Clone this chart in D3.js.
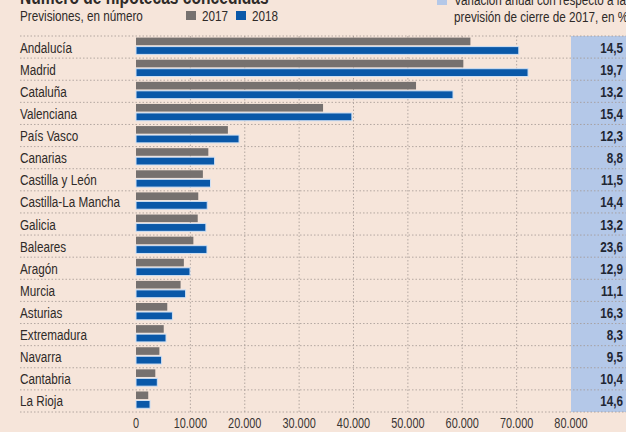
<!DOCTYPE html>
<html>
<head>
<meta charset="utf-8">
<script src="https://cdn.jsdelivr.net/npm/d3@7"></script>
<style>
  body { margin: 0; background: #f6e5da; }
  svg { display: block; font-family: "Liberation Sans", "Arimo", "Roboto", sans-serif; }
  .lab { fill: #2e2a28; font-size: 15px; }
  .val { fill: #1f2633; font-size: 15px; font-weight: bold; }
  .tick_x { fill: #3a3533; font-size: 14px; }
  .grid { stroke: #a39893; stroke-width: 0.8; stroke-dasharray: 1.5 2; fill: none; }
</style>
</head>
<body>
<svg id="chart" width="626" height="432"></svg>
<script>
let regions = ["Andalucía", "Madrid", "Cataluña", "Valenciana", "País Vasco", "Canarias",
    "Castilla y León", "Castilla-La Mancha", "Galicia", "Baleares", "Aragón", "Murcia",
    "Asturias", "Extremadura", "Navarra", "Cantabria", "La Rioja"];
let v2017 = [61500, 60200, 51500, 34400, 16900, 13300, 12300, 11450, 11350, 10550, 8800,
    8200, 5750, 5100, 4300, 3550, 2250];
let v2018 = [70400, 72100, 58300, 39700, 18950, 14450, 13700, 13100, 12850, 13050, 9930,
    9120, 6700, 5520, 4710, 3920, 2580];
let variacion = ["14,5", "19,7", "13,2", "15,4", "12,3", "8,8", "11,5", "14,4", "13,2", "23,6",
    "12,9", "11,1", "16,3", "8,3", "9,5", "10,4", "14,6"];
let ticks = [0, 10000, 20000, 30000, 40000, 50000, 60000, 70000, 80000];

// the original uses a condensed face, so squeeze text horizontally
const narrow = 0.78;
function place(px, py) {
    return "translate(" + px + "," + py + ") scale(" + narrow + ",1)";
}

let svg = d3.select("#chart");
let fmt = d3.formatLocale({decimal: ",", thousands: ".", grouping: [3]}).format(",");

let x = d3.scaleLinear().domain([0, 80000]).range([136, 571]);
let y = d3.scaleBand().domain(regions).range([36, 412]);
let rowH = y.bandwidth();

// panel for the variation column
svg.append("rect")
    .attr("x", x(80000)).attr("y", y.range()[0])
    .attr("width", 626 - x(80000)).attr("height", y.range()[1] - y.range()[0])
    .attr("fill", "#b4c8e8");

// vertical grid
svg.append("g")
    .selectAll("line")
    .data(ticks.slice(1, -1))
    .enter()
    .append("line")
    .attr("class", "grid")
    .attr("x1", d => x(d)).attr("x2", d => x(d))
    .attr("y1", y.range()[0]).attr("y2", y.range()[1]);

// horizontal row separators
let seps = regions.map(r => y(r)).concat([y.range()[1]]);
svg.append("g")
    .selectAll("line")
    .data(seps)
    .enter()
    .append("line")
    .attr("class", "grid")
    .attr("x1", 20).attr("x2", 626)
    .attr("y1", d => d).attr("y2", d => d);

// bars
svg.append("g")
    .selectAll("rect")
    .data(regions)
    .enter()
    .append("rect")
    .attr("x", x(0))
    .attr("y", d => y(d) + 1.6)
    .attr("width", (d, i) => x(v2017[i]) - x(0))
    .attr("height", 7.6)
    .attr("fill", "#76716f");

svg.append("g")
    .selectAll("rect")
    .data(regions)
    .enter()
    .append("rect")
    .attr("x", x(0))
    .attr("y", d => y(d) + 10.6)
    .attr("width", (d, i) => x(v2018[i]) - x(0))
    .attr("height", 7.8)
    .attr("fill", "#0a58a8")
    .attr("stroke", "#cfe0f4")
    .attr("stroke-width", 1);

// region labels
svg.append("g")
    .selectAll("text")
    .data(regions)
    .enter()
    .append("text")
    .attr("class", "lab")
    .attr("transform", d => place(20, y(d) + rowH / 2 + 5.5))
    .text(d => d);

// variation values
svg.append("g")
    .selectAll("text")
    .data(regions)
    .enter()
    .append("text")
    .attr("class", "val")
    .attr("text-anchor", "end")
    .attr("transform", d => place(623, y(d) + rowH / 2 + 5.5))
    .text((d, i) => variacion[i]);

// x axis labels
svg.append("g")
    .selectAll("text")
    .data(ticks)
    .enter()
    .append("text")
    .attr("class", "tick_x")
    .attr("text-anchor", "middle")
    .attr("transform", d => place(x(d), 428))
    .text(d => fmt(d));

// header
svg.append("text")
    .attr("transform", place(20, 4))
    .attr("font-size", 20).attr("font-weight", "bold").attr("fill", "#2e2a28")
    .text("Número de hipotecas concedidas");

svg.append("text")
    .attr("transform", place(20, 21))
    .attr("font-size", 15).attr("fill", "#2e2a28")
    .text("Previsiones, en número");

let legend = [["2017", "#76716f", 186], ["2018", "#0a58a8", 236]];
legend.forEach(l => {
    svg.append("rect").attr("x", l[2]).attr("y", 11).attr("width", 10).attr("height", 9).attr("fill", l[1]);
    svg.append("text").attr("transform", place(l[2] + 16, 21))
        .attr("font-size", 15).attr("fill", "#2e2a28").text(l[0]);
});

svg.append("rect").attr("x", 437).attr("y", -4).attr("width", 10).attr("height", 9).attr("fill", "#b4c8e8");
svg.append("text").attr("transform", place(454, 5))
    .attr("font-size", 15).attr("fill", "#2e2a28")
    .text("Variación anual con respecto a la");
svg.append("text").attr("transform", place(454, 22))
    .attr("font-size", 15).attr("fill", "#2e2a28")
    .text("previsión de cierre de 2017, en %");
</script>
</body>
</html>
